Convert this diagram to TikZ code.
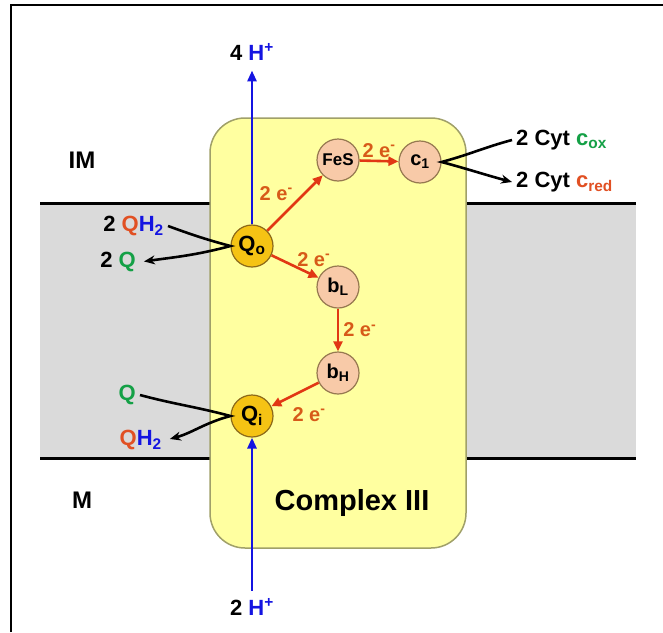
\documentclass[tikz,border=0pt]{standalone}
\usepackage{fontspec}
\setmainfont{Liberation Sans}
\usepackage{tikz}
\usetikzlibrary{arrows.meta,positioning}
\usepackage{xcolor}
\definecolor{boxfill}{RGB}{255,255,160}
\definecolor{boxedge}{RGB}{160,160,105}
\definecolor{band}{RGB}{218,218,218}
\definecolor{hblue}{RGB}{20,20,225}
\definecolor{redox}{RGB}{225,55,20}
\definecolor{elabel}{RGB}{215,90,25}
\definecolor{qsite}{RGB}{245,195,20}
\definecolor{qedge}{RGB}{140,105,25}
\definecolor{heme}{RGB}{248,202,168}
\definecolor{hemeedge}{RGB}{150,120,80}
\definecolor{qred}{RGB}{225,80,35}
\definecolor{qgreen}{RGB}{20,160,70}

\begin{document}
\begin{tikzpicture}[x=1pt, y=1pt,
  txt/.style={font=\fontsize{22}{26}\selectfont\bfseries, inner sep=4pt},
  side/.style={font=\fontsize{24}{28}\selectfont\bfseries},
  cplx/.style={draw=boxedge, line width=1.5pt, fill=boxfill, rounded corners=35pt,
               minimum width=256pt, minimum height=430pt},
  site/.style={circle, draw=qedge, line width=1.2pt, fill=qsite, minimum size=42pt,
               inner sep=0pt, font=\fontsize{22}{24}\selectfont\bfseries},
  cof/.style={site, fill=heme, draw=hemeedge, font=\fontsize{20}{22}\selectfont\bfseries},
  etr/.style={-{Triangle[length=10pt,width=9pt]}, line width=2.6pt, redox},
  elbl/.style={font=\fontsize{20}{22}\selectfont\bfseries, text=elabel, inner sep=1pt},
  pump/.style={-{Triangle[length=11pt,width=9pt]}, line width=2.8pt, hblue},
  flow/.style={-{Stealth[length=11pt,width=9pt]}, line width=2.6pt, black}]
  \useasboundingbox (0,0) rectangle (663,-632);
  \draw[line width=2pt] (11,-632) -- (11,-5) -- (663,-5);

  % membrane
  \fill[band] (40,-203) rectangle (636,-458);
  \draw[line width=3pt] (40,-203) -- (636,-203);
  \draw[line width=3pt] (40,-458) -- (636,-458);
  \node[side] (im) at (82,-160) {IM};
  \node[side] (m) at (82,-500) {M};

  % complex III
  \node[cplx] (cplx) at (338,-333) {};
  \node[font=\fontsize{29}{32}\selectfont\bfseries] (name) at (352,-503) {Complex III};

  % centres
  \node[site] (qo) at (252,-246) {Q\textsubscript{o}};
  \node[site] (qi) at (252,-416) {Q\textsubscript{i}};
  \node[cof, font=\fontsize{17}{20}\selectfont\bfseries] (fes) at (338,-160) {FeS};
  \node[cof] (cone) at (420,-162) {c\textsubscript{1}};
  \node[cof] (bl) at (338,-287) {b\textsubscript{L}};
  \node[cof] (bh) at (338,-373) {b\textsubscript{H}};

  % protons
  \node[txt] (hout) at (252,-52) {4 \textcolor{hblue}{H\textsuperscript{+}}};
  \node[txt] (hin) at (252,-607) {2 \textcolor{hblue}{H\textsuperscript{+}}};
  \draw[pump, shorten >=6pt] (qo.north) -- (qo.north |- hout.south);
  \draw[pump, shorten <=4pt] (qi.south |- hin.north) -- (qi.south);

  % electrons
  \draw[etr] (qo) -- node[elbl, above left=0pt] {2 e\textsuperscript{-}} (fes);
  \draw[etr] (fes) -- node[elbl, above=1pt] {2 e\textsuperscript{-}} (cone);
  \draw[etr] (qo) -- node[elbl, above right=-2pt and 0pt] {2 e\textsuperscript{-}} (bl);
  \draw[etr] (bl) -- node[elbl, right=3pt] {2 e\textsuperscript{-}} (bh);
  \draw[etr] (bh) -- node[elbl, pos=0.6, below right=8pt and 0pt] {2 e\textsuperscript{-}} (qi);

  % quinones and cytochrome c
  \node[txt, anchor=east] (qhtwoin) at (168,-226) {2 \textcolor{qred}{Q}\textcolor{hblue}{H\textsubscript{2}}};
  \node[txt, anchor=east] (qout) at (140,-262) {2 \textcolor{qgreen}{Q}};
  \node[txt, anchor=east] (qin) at (140,-395) {\textcolor{qgreen}{Q}};
  \node[txt, anchor=east] (qhtwoout) at (166,-440) {\textcolor{qred}{Q}\textcolor{hblue}{H\textsubscript{2}}};
  \node[txt, anchor=west] (cox) at (512,-140) {2 Cyt \textcolor{qgreen}{c\textsubscript{ox}}};
  \node[txt, anchor=west] (cred) at (512,-182) {2 Cyt \textcolor{qred}{c\textsubscript{red}}};
  \draw[flow, shorten >=4pt] (qhtwoin.east) to[out=-20,in=165] (qo.west) to[out=195,in=8] (qout.east);
  \draw[flow, shorten >=4pt] (qin.east) to[out=-15,in=165] (qi.west) to[out=195,in=15] (qhtwoout.east);
  \draw[flow] (cox.west) to[out=195,in=15] (cone.east) to[out=-15,in=165] (cred.west);
\end{tikzpicture}
\end{document}
